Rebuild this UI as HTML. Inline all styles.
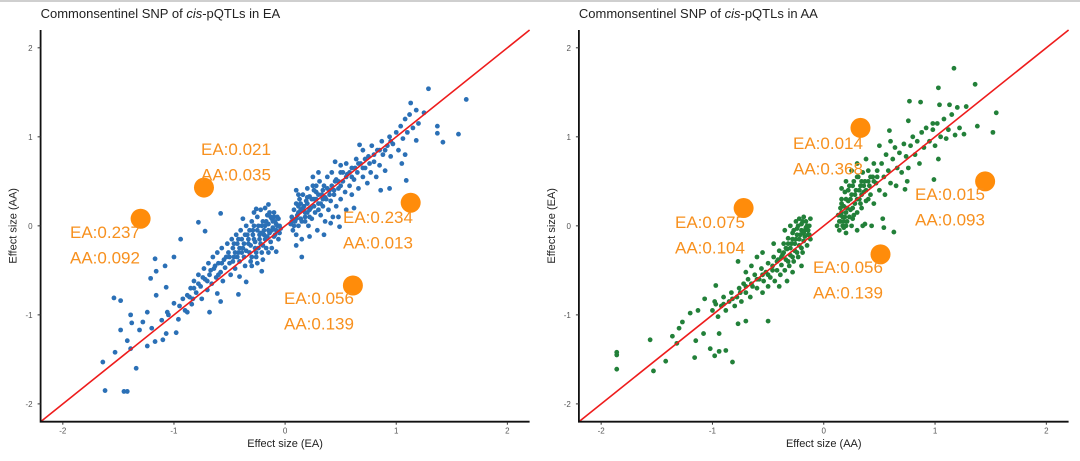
<!DOCTYPE html>
<html><head><meta charset="utf-8">
<style>
html,body{margin:0;padding:0;background:#fff;}
svg{display:block;font-family:"Liberation Sans",sans-serif;}
</style></head>
<body>
<svg id="chart" width="1080" height="461" viewBox="0 0 1080 461">
<rect x="0" y="0" width="1080" height="2" fill="#cfcfcf"/>
<g id="pL"></g>
<g id="pR"></g>
</svg>
<script>
const ticks=[-2,-1,0,1,2];
const tickLabels=["-2","-1","0","1","2"];
const eaPointsX=[1.29,1.63,1.13,1.56,1.42,1.37,1.37,1.18,1.09,1.05,0.94,0.86,0.67,0.5,0.49,0.41,0.15,0.1,0.1,-0.15,-0.26,-0.58,-0.78,-0.72,-0.94,-1,-1.08,-1.17,-1.16,-1.21,-1.16,-1.07,-1.54,-1.48,-1.39,-1.38,-1.48,-1.42,-1.39,-1.53,-1.64,-1.34,-1.62,-1.45,-1.42,-1.31,-1.24,-1.28,-1.17,-1.1,-1.07,-0.98,-0.96,-0.88,-0.68,-0.58,-0.42,-0.35,-0.21,-0.08,-0.41,-0.61,-0.83,-1.0,-1.05,-1.11,-1.2,-1.24,-1.06,
-0.95,-0.92,-0.9,-0.88,-0.85,-0.84,-0.82,-0.8,-0.78,-0.76,-0.75,-0.73,-0.72,-0.7,-0.69,-0.68,-0.66,-0.65,-0.64,-0.62,-0.61,-0.6,-0.58,-0.57,-0.56,-0.55,-0.54,-0.52,-0.51,-0.5,-0.49,-0.48,-0.47,-0.46,-0.45,-0.44,-0.43,-0.42,-0.41,-0.4,-0.39,-0.38,-0.37,-0.36,-0.35,-0.34,-0.33,-0.32,-0.31,-0.3,-0.29,-0.28,-0.27,-0.26,-0.25,-0.24,-0.23,-0.22,-0.21,-0.2,-0.19,-0.18,-0.17,-0.16,-0.15,-0.14,-0.13,-0.12,-0.11,-0.1,-0.09,-0.08,-0.07,-0.06,-0.05,-0.05,-0.3,-0.25,-0.2,-0.15,-0.12,-0.38,-0.28,-0.22,-0.18,-0.1,
0.05,0.06,0.07,0.08,0.09,0.1,0.1,0.11,0.12,0.13,0.14,0.15,0.15,0.16,0.17,0.18,0.19,0.2,0.2,0.21,0.22,0.23,0.24,0.25,0.26,0.27,0.28,0.29,0.3,0.31,0.32,0.33,0.34,0.35,0.36,0.37,0.38,0.39,0.4,0.41,0.42,0.43,0.44,0.45,0.46,0.48,0.5,0.5,0.52,0.54,0.55,0.56,0.58,0.6,0.6,0.62,0.64,0.65,0.66,0.68,0.7,0.7,0.72,0.74,0.75,0.77,0.78,0.8,0.82,0.83,0.85,0.87,0.88,0.9,0.92,0.94,0.95,0.97,1.0,1.02,1.04,1.06,1.08,1.1,1.12,1.15,1.18,1.2,1.25,1.08,0.62,0.55,0.48,0.35,0.22,0.12,0.25,0.45,0.3,
-0.5,-0.47,-0.45,-0.43,-0.41,-0.39,-0.37,-0.35,-0.33,-0.31,-0.29,-0.27,-0.25,-0.23,-0.21,-0.19,-0.17,-0.15,-0.13,-0.11,-0.09,-0.07,-0.06,-0.04,-0.32,-0.28,-0.24,-0.2,-0.16,-0.14,-0.36,-0.42,-0.46,-0.53,-0.57,-0.6,-0.63,-0.67,-0.7,-0.74,-0.78,-0.82,-0.86,-0.3,-0.26,-0.22,-0.18,-0.12,-0.08,-0.1,
0.06,0.08,0.1,0.12,0.14,0.16,0.18,0.2,0.22,0.24,0.26,0.28,0.3,0.32,0.34,0.36,0.38,0.4,0.42,0.44,0.46,0.48,0.5,0.52,0.55,0.58,0.6,0.63,0.66,0.7,0.72,0.76,0.8,0.85,0.9,0.95,0.14,0.18,0.22,0.26,0.3,0.34,0.12,0.2,0.28];
const eaPointsY=[1.54,1.42,1.38,1.03,0.94,1.04,1.12,0.96,0.51,0.70,0.42,0.40,0.91,0.68,-0.01,0.03,-0.35,-0.22,0.4,0.24,0.19,0.14,0.04,-0.06,-0.15,-0.35,-0.45,-0.37,-0.51,-0.59,-0.78,-0.69,-0.81,-0.84,-1.0,-1.09,-1.17,-1.29,-1.38,-1.42,-1.53,-1.6,-1.85,-1.86,-1.86,-1.17,-0.97,-1.08,-1.30,-1.28,-1.21,-1.2,-1.05,-0.97,-0.97,-0.85,-0.77,-0.63,-0.51,-0.29,-0.57,-0.76,-0.82,-0.87,-1.0,-1.06,-1.15,-1.35,-0.97,
-0.9,-0.82,-0.95,-0.78,-0.7,-0.88,-0.62,-0.75,-0.55,-0.68,-0.82,-0.48,-0.6,-0.72,-0.42,-0.55,-0.65,-0.35,-0.48,-0.58,-0.3,-0.42,-0.52,-0.25,-0.62,-0.38,-0.47,-0.2,-0.3,-0.42,-0.55,-0.15,-0.25,-0.35,-0.48,-0.1,-0.2,-0.3,-0.4,-0.05,-0.15,-0.25,-0.35,-0.45,0.0,-0.1,-0.2,-0.3,-0.4,0.05,-0.05,-0.15,-0.25,-0.35,0.1,0.0,-0.1,-0.2,-0.3,0.05,-0.05,-0.15,-0.25,0.12,0.02,-0.08,-0.18,0.08,-0.02,-0.12,0.05,-0.05,0.1,-0.15,0.0,-0.08,-0.45,-0.42,-0.38,-0.3,-0.25,0.08,0.15,0.18,0.2,0.15,
0.02,0.1,-0.05,0.18,0.05,0.25,-0.1,0.12,0.0,0.3,0.18,0.05,-0.15,0.35,0.22,0.1,0.28,0.15,0.42,0.0,0.33,0.2,0.08,0.45,0.3,0.15,0.38,-0.05,0.25,0.5,0.12,0.35,0.22,0.45,0.05,0.3,0.55,0.18,0.4,0.28,0.6,0.1,0.35,0.5,0.22,0.42,0.3,0.6,0.5,0.38,0.7,0.58,0.45,0.65,0.35,0.52,0.75,0.6,0.42,0.7,0.55,0.85,0.65,0.48,0.78,0.6,0.9,0.72,0.55,0.85,0.68,0.95,0.8,0.62,0.9,1.0,0.78,0.92,1.05,0.85,1.12,0.98,1.2,1.05,1.25,1.1,1.3,1.15,1.27,0.8,0.2,0.18,0.1,-0.1,-0.12,0.35,0.55,0.72,0.6,
-0.35,-0.4,-0.3,-0.35,-0.25,-0.3,-0.2,-0.28,-0.15,-0.22,-0.1,-0.18,-0.05,-0.15,0.0,-0.1,0.05,-0.05,0.1,0.05,-0.1,0.0,0.08,-0.03,-0.05,0.0,-0.25,-0.22,-0.12,0.15,-0.1,-0.15,-0.2,-0.35,-0.42,-0.55,-0.45,-0.5,-0.62,-0.58,-0.65,-0.7,-0.8,-0.35,-0.3,-0.08,0.0,-0.05,0.02,0.1,
0.05,0.0,0.08,0.15,0.08,0.2,0.15,0.25,0.18,0.3,0.22,0.3,0.35,0.25,0.4,0.32,0.42,0.35,0.45,0.4,0.52,0.5,0.45,0.6,0.55,0.6,0.55,0.65,0.7,0.65,0.75,0.7,0.8,0.85,0.85,0.95,0.25,0.05,0.1,0.4,0.18,0.3,0.22,0.32,0.45];
const aaPointsX=[1.17,1.36,1.03,0.77,0.87,1.04,1.13,1.2,1.28,1.55,1.38,1.52,1.26,0.76,0.98,0.59,0.99,1.03,0.73,0.63,0.53,0.54,0.37,0.43,
-1.86,-1.86,-1.86,-1.56,-1.53,-1.42,-1.36,-1.3,-1.32,-1.27,-1.2,-1.16,-1.15,-1.08,-1.02,-0.98,-0.94,-0.88,-0.82,-0.94,-0.77,-0.7,-0.5,-0.97,-0.77,-0.98,-1.07,-1.13,
-1.0,-0.97,-0.95,-0.92,-0.9,-0.88,-0.85,-0.83,-0.8,-0.78,-0.76,-0.74,-0.72,-0.7,-0.68,-0.66,-0.64,-0.62,-0.6,-0.58,-0.56,-0.55,-0.54,-0.52,-0.5,-0.5,-0.48,-0.46,-0.45,-0.44,-0.42,-0.41,-0.4,-0.39,-0.38,-0.37,-0.36,-0.35,-0.34,-0.33,-0.32,-0.31,-0.3,-0.29,-0.28,-0.27,-0.26,-0.25,-0.24,-0.23,-0.22,-0.21,-0.2,-0.19,-0.18,-0.17,-0.16,-0.15,-0.14,-0.13,-0.12,-0.12,-0.25,-0.3,-0.35,-0.45,-0.55,-0.6,-0.65,-0.7,-0.28,-0.2,-0.33,-0.4,-0.22,-0.18,
0.12,0.13,0.14,0.15,0.15,0.16,0.17,0.18,0.18,0.19,0.2,0.21,0.22,0.23,0.24,0.25,0.26,0.27,0.28,0.29,0.3,0.31,0.32,0.33,0.34,0.35,0.36,0.37,0.38,0.4,0.41,0.42,0.44,0.45,0.47,0.48,0.5,0.52,0.54,0.56,0.58,0.6,0.62,0.64,0.66,0.68,0.7,0.72,0.74,0.76,0.78,0.8,0.82,0.84,0.86,0.88,0.9,0.92,0.95,0.98,1.0,1.02,1.05,1.08,1.1,1.12,1.15,1.18,1.22,0.2,0.25,0.3,0.38,0.5,0.6,0.2,0.3,0.25,0.55,0.65,0.75,0.45,0.35,0.16,
-0.38,-0.36,-0.34,-0.32,-0.3,-0.28,-0.26,-0.24,-0.22,-0.2,-0.18,-0.16,-0.14,-0.2,-0.24,-0.28,-0.32,-0.15,-0.17,-0.19,-0.42,-0.46,-0.5,-0.55,-0.6,-0.65,-0.7,-0.75,-0.82,-0.9,-0.27,-0.23,-0.13,
0.14,0.16,0.17,0.19,0.21,0.23,0.24,0.26,0.28,0.3,0.32,0.34,0.36,0.38,0.4,0.42,0.45,0.48,0.15,0.2,0.22,0.26,0.3,0.34,0.18,0.27,0.33,0.4,0.16,0.2];
const aaPointsY=[1.77,1.59,1.55,1.40,1.39,1.36,1.36,1.33,1.34,1.27,1.12,1.05,1.03,1.18,1.15,1.07,0.52,0.75,0.41,-0.07,0.08,-0.02,0.02,0,
-1.42,-1.45,-1.61,-1.28,-1.63,-1.52,-1.24,-1.15,-1.32,-1.08,-0.98,-1.48,-1.29,-1.21,-1.38,-1.46,-1.41,-1.40,-1.53,-1.21,-1.10,-1.07,-1.07,-0.67,-0.40,-0.85,-0.82,-0.95,
-0.95,-0.88,-1.02,-0.9,-0.8,-0.95,-0.85,-0.75,-0.9,-0.8,-0.7,-0.85,-0.65,-0.75,-0.6,-0.8,-0.68,-0.55,-0.7,-0.6,-0.48,-0.75,-0.62,-0.52,-0.42,-0.68,-0.58,-0.45,-0.35,-0.62,-0.5,-0.38,-0.28,-0.55,-0.44,-0.32,-0.2,-0.5,-0.38,-0.26,-0.14,-0.45,-0.33,-0.2,-0.08,-0.4,-0.28,-0.15,-0.03,-0.35,-0.22,-0.1,0.02,-0.3,-0.17,-0.05,0.05,-0.22,-0.1,0.0,-0.15,0.08,0.05,0.0,-0.05,-0.2,-0.3,-0.35,-0.45,-0.52,-0.52,-0.45,-0.62,-0.68,0.08,0.1,
0.0,0.12,-0.05,0.2,0.05,0.3,0.1,-0.02,0.22,0.38,0.15,0.05,0.28,0.45,0.18,0.35,0.08,0.5,0.25,0.4,0.15,0.55,0.3,0.45,0.2,0.6,0.38,0.5,0.28,0.62,0.45,0.35,0.55,0.7,0.48,0.62,0.4,0.7,0.55,0.8,0.62,0.48,0.75,0.88,0.65,0.82,0.6,0.92,0.78,0.65,0.9,1.0,0.8,0.95,0.7,1.05,0.88,1.1,0.95,1.08,0.9,1.15,1.0,1.2,0.98,1.08,1.25,1.02,1.1,0.5,0.62,0.7,0.75,0.9,0.95,-0.08,-0.05,0.0,0.35,0.45,0.5,0.25,0.0,0.42,
-0.35,-0.3,-0.25,-0.2,-0.25,-0.15,-0.2,-0.1,-0.15,-0.05,-0.08,-0.02,-0.05,-0.25,-0.3,-0.35,-0.4,0.0,-0.12,0.05,-0.4,-0.5,-0.55,-0.55,-0.6,-0.65,-0.68,-0.75,-0.82,-0.88,-0.05,0.0,-0.1,
0.05,0.15,0.0,0.1,0.2,0.1,0.3,0.2,0.35,0.3,0.4,0.35,0.45,0.4,0.5,0.55,0.5,0.55,0.12,0.3,0.4,0.45,0.55,0.5,0.05,0.12,0.25,0.3,0.25,0.0];
const eaHighlightX=[-1.3,-0.73,1.13,0.61];
const eaHighlightY=[0.08,0.43,0.26,-0.67];
const aaHighlightX=[0.33,-0.72,1.45,0.51];
const aaHighlightY=[1.10,0.20,0.50,-0.32];
const domain=[-2.2,2.2];

const NS="http://www.w3.org/2000/svg";
function mk(tag,attrs,parent){const e=document.createElementNS(NS,tag);for(const k in attrs)e.setAttribute(k,attrs[k]);parent.appendChild(e);return e;}

function panel(g,cfg){
  const x0=cfg.axX, x1=cfg.axX2, yTop=30, yBot=421.7;
  const sx=v=>x0+(v-domain[0])/(domain[1]-domain[0])*(x1-x0);
  const sy=v=>yBot-(v-domain[0])/(domain[1]-domain[0])*(yBot-yTop);
  const t=mk('text',{x:x0,y:18,'font-size':13,fill:'#222'},g);
  
  
  t.innerHTML='Commonsentinel SNP of <tspan font-style="italic">cis</tspan>-pQTLs  in '+cfg.grp;
  const pts=mk('g',{},g);
  
  
  for(let i=0;i<cfg.px.length;i++){
    const c=mk('circle',{cx:sx(cfg.px[i]),cy:sy(cfg.py[i]),r:2.4,fill:cfg.color},pts);
    
    
  }
  const ln=mk('line',{x1:sx(domain[0]),y1:sy(domain[0]),x2:sx(domain[1]),y2:sy(domain[1]),stroke:'#ee1c1c','stroke-width':1.6},g);
  
  
  for(let i=0;i<cfg.hx.length;i++){
    const c=mk('circle',{cx:sx(cfg.hx[i]),cy:sy(cfg.hy[i]),r:10,fill:'#ff8c0a'},g);
    
    
  }
  cfg.labels.forEach(l=>{
    [[l[2],0],[l[3],25.5]].forEach(([s,dy])=>{
      const tx=mk('text',{x:l[0],y:l[1]+dy,'font-size':17,fill:'#f7901e'},g);
      
      
      tx.textContent=s;
    });
  });
  const ax=mk('path',{d:`M${x0},${yTop}V${yBot}H${x1}`,fill:'none',stroke:'#111','stroke-width':1.8},g);
  
  
  ticks.forEach((v,i)=>{
    mk('line',{x1:sx(v),x2:sx(v),y1:yBot,y2:yBot+3,stroke:'#333','stroke-width':1},g);
    const a=mk('text',{x:sx(v),y:yBot+12,'font-size':8,fill:'#555','text-anchor':'middle'},g);
    
    
    a.textContent=tickLabels[i];
    mk('line',{x1:x0-3,x2:x0,y1:sy(v),y2:sy(v),stroke:'#333','stroke-width':1},g);
    const b=mk('text',{x:x0-8,y:sy(v)+3,'font-size':8,fill:'#555','text-anchor':'end'},g);
    
    
    b.textContent=tickLabels[i];
  });
  const xt=mk('text',{x:(x0+x1)/2,y:447,'font-size':11,fill:'#222','text-anchor':'middle'},g);
  
  
  xt.textContent=cfg.xTitle;
  const yt=mk('text',{x:0,y:0,'font-size':11,fill:'#222','text-anchor':'middle',transform:`translate(${x0-24},${(yTop+yBot)/2}) rotate(-90)`},g);
  
  
  yt.textContent=cfg.yTitle;
}
panel(document.getElementById('pL'),{axX:40.6,axX2:529.6,grp:'EA',color:'#2b70b6',px:eaPointsX,py:eaPointsY,hx:eaHighlightX,hy:eaHighlightY,
  xTitle:'Effect size (EA)',yTitle:'Effect size (AA)',
  labels:[[70,238,'EA:0.237','AA:0.092'],[201,155,'EA:0.021','AA:0.035'],[343,223,'EA:0.234','AA:0.013'],[284,304,'EA:0.056','AA:0.139']]});
panel(document.getElementById('pR'),{axX:578.9,axX2:1068.6,grp:'AA',color:'#228039',px:aaPointsX,py:aaPointsY,hx:aaHighlightX,hy:aaHighlightY,
  xTitle:'Effect size (AA)',yTitle:'Effect size (EA)',
  labels:[[793,149,'EA:0.014','AA:0.368'],[675,228,'EA:0.075','AA:0.104'],[915,200,'EA:0.015','AA:0.093'],[813,273,'EA:0.056','AA:0.139']]});
</script>
</body></html>
